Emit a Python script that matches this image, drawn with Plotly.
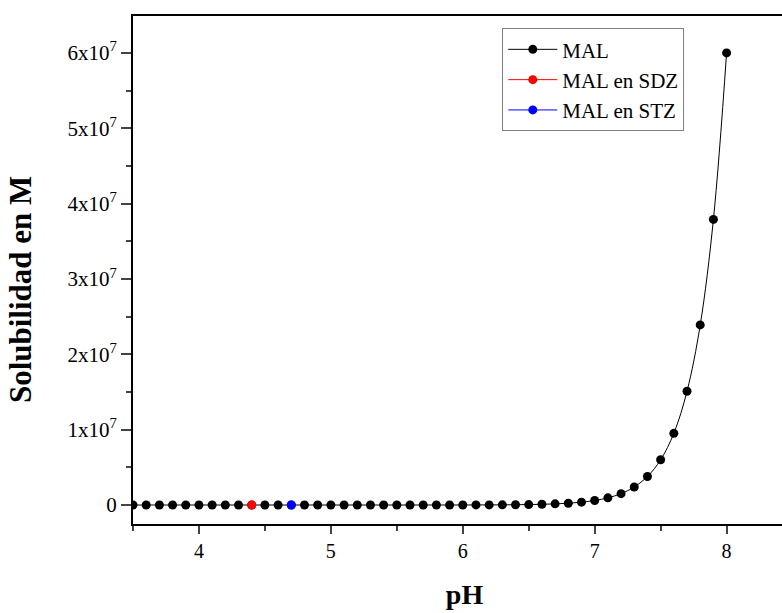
import plotly.graph_objects as go

ph = [3.5, 3.6, 3.7, 3.8, 3.9, 4.0, 4.1, 4.2, 4.3, 4.4, 4.5, 4.6, 4.7, 4.8, 4.9,
      5.0, 5.1, 5.2, 5.3, 5.4, 5.5, 5.6, 5.7, 5.8, 5.9, 6.0, 6.1, 6.2, 6.3, 6.4,
      6.5, 6.6, 6.7, 6.8, 6.9, 7.0, 7.1, 7.2, 7.3, 7.4, 7.5, 7.6, 7.7, 7.8, 7.9, 8.0]
sol_mal = [0.06, 0.095, 0.151, 0.239, 0.379, 0.6, 0.95, 1.51, 2.39, 3.79, 6.0, 9.5,
           15.1, 23.9, 37.9, 60, 95, 151, 239, 379, 600, 951, 1510, 2390, 3790,
           6000, 9510, 15100, 23900, 37900, 60000, 95100, 151000, 239000, 379000,
           600000, 951000, 1.51e6, 2.39e6, 3.79e6, 6.0e6, 9.51e6, 1.51e7, 2.39e7,
           3.79e7, 6.0e7]
ph_sdz = [4.4]
sol_sdz = [3.79]
ph_stz = [4.7]
sol_stz = [15.1]

ytick_vals = [0, 1e7, 2e7, 3e7, 4e7, 5e7, 6e7]
ytick_text = ["0", "1x10<sup>7</sup>", "2x10<sup>7</sup>", "3x10<sup>7</sup>",
              "4x10<sup>7</sup>", "5x10<sup>7</sup>", "6x10<sup>7</sup>"]
xtick_vals = [4, 5, 6, 7, 8]
xtick_text = ["4", "5", "6", "7", "8"]

FONT = "Liberation Serif"
NB = "&nbsp;"

fig = go.Figure()
fig.add_trace(go.Scatter(x=ph, y=sol_mal, mode="lines+markers", name="MAL",
                         line=dict(color="black", width=1, shape="spline"),
                         marker=dict(color="black", size=9)))
fig.add_trace(go.Scatter(x=ph_sdz, y=sol_sdz, mode="lines+markers", name="MAL en SDZ",
                         line=dict(color="#ff0000", width=1),
                         marker=dict(color="#ff0000", size=9)))
fig.add_trace(go.Scatter(x=ph_stz, y=sol_stz, mode="lines+markers", name="MAL en STZ",
                         line=dict(color="#0000ff", width=1),
                         marker=dict(color="#0000ff", size=9)))

fig.update_layout(
    width=782, height=613,
    margin=dict(l=133, r=0, t=16, b=89),
    plot_bgcolor="white", paper_bgcolor="white",
    font=dict(family=FONT, color="black", size=20),
    legend=dict(x=0.569, y=0.976, xanchor="left", yanchor="top",
                bgcolor="white", bordercolor="#808080", borderwidth=1,
                font=dict(size=21, family=FONT, color="black"),
                tracegroupgap=0, itemwidth=49),
    showlegend=True,
)
fig.update_xaxes(
    range=[3.5, 8.42], tickvals=xtick_vals, ticktext=xtick_text,
    ticks="outside", ticklen=8, tickwidth=1.5,
    showline=True, linecolor="black", linewidth=1.5, mirror=True,
    showgrid=False, zeroline=False,
    minor=dict(tickmode="linear", tick0=3.5, dtick=0.5, ticks="outside", ticklen=5, tickwidth=1.5),
    title=dict(text=NB * 2 + "<b>pH</b>", font=dict(size=28, family=FONT, color="black"), standoff=24),
    tickfont=dict(size=20, family=FONT, color="black"),
)
fig.update_yaxes(
    range=[-2.52e6, 6.49e7], tickvals=ytick_vals, ticktext=ytick_text,
    ticks="outside", ticklen=10, tickwidth=1.5,
    showline=True, linecolor="black", linewidth=2, mirror=False,
    showgrid=False, zeroline=False,
    minor=dict(tickmode="linear", tick0=0, dtick=5e6, ticks="outside", ticklen=5, tickwidth=1.5),
    title=dict(text="<b>Solubilidad en M" + NB * 5 + "</b>", font=dict(size=31, family=FONT, color="black"), standoff=27),
    tickfont=dict(size=21, family=FONT, color="black"),
)

fig.write_html("out.html")
